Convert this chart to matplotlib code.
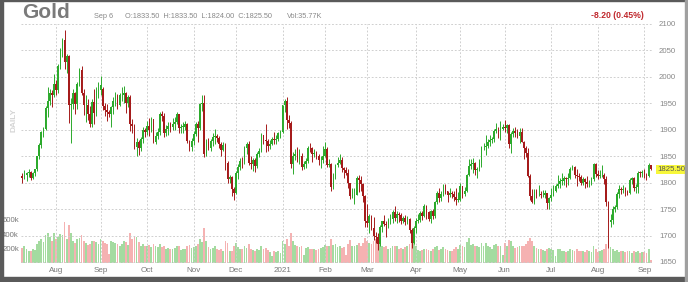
import numpy as np
import pandas as pd
import matplotlib
matplotlib.use("Agg")
import matplotlib.pyplot as plt
from matplotlib.patches import Rectangle

plt.rcParams['font.family'] = ['Liberation Sans', 'DejaVu Sans']

# ---------------- data ----------------
dates = pd.bdate_range('2020-07-10', '2021-09-06')
dates = dates.drop(pd.to_datetime(['2020-11-26', '2020-12-25', '2021-01-01', '2021-04-02']))

opens = [
    1812,1810,1814,1818,1820,1809,1818,1825,1850,1871,1896,1902,1941,1955,1970,1966,
    1986,1976,2021,2050,2070,2028,2039,1946,1948,1970,1949,1987,2013,1970,1946,1947,1929,1911,1953,1932,1974,
    1976,1978,1944,1938,1934,1930,1943,1954,1964,1947,1965,1966,1970,1950,1962,1910,1907,1868,1876,1866,1882,1899,
    1895,1907,1900,1920,1877,1888,1895,1930,1926,1894,1901,1908,1906,1911,1915,1929,1904,1905,1905,1911,1879,1868,
    1879,1892,1910,1903,1949,1951,1854,1876,1866,1878,1886,1889,1885,1873,1861,1872,1837,1807,1811,1788,
    1780,1818,1830,1841,1840,1866,1874,1838,1836,1843,1832,1855,1860,1890,1881,1879,1870,1874,1883,1880,1882,1893,
    1895,1946,1954,1918,1913,1835,1850,1855,1845,1851,1829,1836,1840,1866,1865,1855,1855,1850,1842,1842,
    1850,1863,1833,1835,1791,1813,1834,1838,1842,1827,1823,1818,1799,1775,1775,1777,1808,1805,1797,1775,
    1728,1723,1737,1715,1700,1698,1683,1716,1727,1722,1719,1729,1731,1745,1733,1741,1738,1727,1734,1725,1732,1711,1685,
    1715,1728,1729,1743,1737,1756,1744,1731,1746,1736,1764,1780,1770,1778,1793,1784,1777,1780,1778,1773,1768,
    1768,1793,1779,1784,1815,1831,1836,1837,1823,1825,1838,1867,1868,1870,1876,1881,1882,1898,1898,1895,1902,
    1905,1903,1909,1873,1892,1898,1894,1888,1896,1877,1866,1856,1812,1774,1764,1782,1778,1779,1776,1777,1780,1762,
    1770,1777,1784,1793,1797,1803,1803,1808,1806,1808,1826,1829,1815,1813,1811,1800,1806,1801,1797,1799,1806,1835,
    1817,1813,1814,1814,1806,1763,1726,1730,1751,1753,1778,1788,1787,1788,1782,1781,1805,1808,1790,1792,1819,1818,
    1818,1815,1812,1833.5,
]
highs = [
    1818,1824,1820,1826,1822,1821,1826,1851,1875,1898,1906,1944,1981,1977,1975,2005,
    1994,2024,2055,2074,2089,2043,2042,1960,1978,1972,1991,2016,2021,1977,1965,1958,1944,1959,1977,1980,1990,
    2001,1981,1950,1949,1938,1945,1962,1972,1967,1970,1980,1983,1972,1966,1966,1920,1911,1885,1880,1886,1905,1904,
    1917,1923,1925,1921,1896,1904,1933,1935,1932,1909,1914,1915,1922,1925,1934,1930,1911,1915,1916,1912,1881,1885,
    1897,1914,1916,1950,1965,1966,1882,1884,1882,1893,1902,1892,1888,1876,1877,1875,1840,1815,1813,1791,
    1822,1835,1846,1849,1869,1877,1878,1851,1846,1847,1858,1866,1893,1891,1910,1882,1880,1886,1895,1890,1896,1900,
    1947,1959,1962,1927,1917,1857,1863,1868,1864,1856,1840,1847,1870,1875,1867,1864,1860,1854,1850,1870,
    1876,1867,1845,1838,1818,1836,1848,1855,1848,1830,1830,1825,1800,1789,1790,1812,1815,1813,1799,1777,
    1760,1740,1739,1735,1706,1704,1720,1727,1738,1728,1733,1741,1748,1756,1746,1745,1742,1737,1739,1737,1734,1714,1718,
    1733,1740,1746,1747,1759,1758,1746,1748,1750,1765,1784,1790,1784,1797,1798,1785,1790,1784,1785,1790,1782,
    1799,1794,1792,1816,1845,1844,1846,1839,1830,1845,1869,1874,1890,1883,1891,1887,1902,1913,1905,1916,1910,
    1919,1910,1911,1895,1903,1905,1902,1903,1903,1879,1870,1865,1816,1788,1788,1788,1795,1785,1786,1787,1781,1772,
    1790,1795,1797,1815,1808,1818,1812,1810,1818,1829,1834,1831,1825,1819,1815,1810,1808,1813,1805,1810,1837,1837,
    1823,1824,1833,1818,1813,1765,1740,1756,1758,1782,1795,1792,1795,1791,1787,1808,1811,1810,1797,1822,1822,1823,
    1825,1818,1837,1833.5,
]
lows = [
    1800,1806,1803,1810,1805,1806,1812,1822,1845,1866,1886,1900,1925,1946,1943,1962,
    1965,1970,2015,2038,2015,2007,1912,1874,1940,1930,1940,1983,1965,1928,1915,1919,1905,1906,1911,1926,1960,
    1966,1937,1926,1916,1924,1906,1930,1945,1940,1944,1955,1950,1932,1943,1897,1893,1864,1851,1852,1860,1874,1886,
    1890,1889,1896,1874,1873,1882,1891,1916,1887,1888,1890,1896,1900,1900,1910,1894,1894,1894,1899,1875,1859,1860,
    1872,1889,1876,1900,1935,1848,1850,1861,1860,1870,1873,1876,1865,1850,1860,1824,1800,1800,1775,1767,
    1778,1806,1824,1828,1836,1855,1833,1826,1822,1821,1828,1849,1858,1873,1858,1860,1864,1872,1873,1873,1878,1884,
    1893,1934,1901,1903,1828,1817,1842,1839,1836,1823,1825,1828,1838,1857,1839,1848,1845,1834,1828,1838,
    1848,1830,1829,1785,1788,1806,1829,1836,1821,1808,1815,1789,1769,1770,1760,1776,1782,1785,1764,1717,
    1717,1705,1710,1691,1685,1673,1681,1706,1718,1697,1714,1722,1723,1728,1723,1726,1721,1724,1720,1722,1705,1677,1683,
    1705,1724,1725,1730,1735,1732,1727,1723,1731,1734,1760,1764,1766,1775,1778,1763,1773,1770,1765,1757,1763,
    1765,1770,1774,1782,1813,1825,1818,1814,1808,1822,1830,1862,1853,1866,1870,1874,1877,1893,1885,1880,1900,
    1896,1893,1866,1856,1886,1887,1884,1875,1876,1845,1848,1811,1767,1761,1760,1770,1775,1771,1772,1770,1751,1750,
    1766,1775,1783,1790,1790,1795,1795,1792,1796,1806,1823,1808,1794,1803,1795,1795,1790,1791,1792,1795,1804,1811,
    1806,1808,1811,1797,1755,1677,1717,1722,1744,1751,1771,1778,1781,1774,1777,1779,1798,1784,1780,1781,1810,1810,
    1808,1805,1810,1824,
]
closes = [
    1809,1814,1818,1820,1809,1818,1825,1850,1871,1896,1902,1941,1955,1970,1966,1986,
    1976,2021,2050,2070,2028,2039,1946,1948,1970,1949,1987,2013,1970,1946,1947,1929,1911,1953,1932,1974,1978,
    1984,1944,1938,1934,1930,1943,1954,1964,1947,1965,1966,1970,1950,1962,1910,1907,1868,1876,1866,1882,1899,1895,
    1907,1900,1920,1877,1888,1895,1930,1926,1894,1901,1908,1906,1911,1915,1929,1904,1905,1905,1911,1879,1868,1879,
    1892,1910,1903,1949,1951,1854,1876,1866,1878,1886,1889,1885,1873,1861,1872,1837,1807,1811,1788,1780,
    1818,1830,1841,1840,1866,1874,1838,1836,1843,1832,1855,1860,1890,1881,1879,1870,1874,1883,1880,1882,1893,1895,
    1946,1954,1918,1913,1835,1850,1855,1845,1851,1829,1836,1840,1866,1865,1855,1855,1850,1842,1842,1850,
    1863,1833,1835,1791,1813,1834,1838,1842,1827,1823,1818,1799,1775,1775,1777,1808,1805,1797,1775,1728,
    1723,1737,1715,1700,1698,1683,1716,1727,1722,1719,1729,1731,1745,1733,1741,1738,1727,1734,1725,1732,1711,1685,1715,
    1728,1729,1743,1737,1756,1744,1731,1746,1736,1764,1780,1770,1778,1793,1784,1777,1780,1778,1773,1768,1768,
    1793,1779,1784,1815,1831,1836,1837,1823,1825,1838,1867,1868,1870,1876,1881,1882,1898,1901,1895,1902,1905,
    1903,1909,1873,1892,1898,1894,1888,1896,1877,1866,1856,1812,1774,1764,1782,1778,1779,1776,1777,1780,1762,1770,
    1777,1784,1793,1797,1803,1803,1808,1806,1808,1826,1829,1815,1813,1811,1800,1806,1801,1797,1799,1806,1835,1817,
    1813,1814,1814,1806,1763,1726,1730,1751,1753,1778,1788,1787,1788,1782,1781,1805,1808,1790,1792,1819,1818,1818,
    1815,1812,1833.7,1825.5,
]
volumes_k = [
    210,230,190,170,160,200,180,260,300,330,290,380,420,360,300,410,
    330,360,400,390,560,330,520,420,300,280,330,350,380,300,270,250,260,300,310,290,260,
    330,310,280,260,120,300,290,280,260,240,260,300,290,250,420,330,370,360,290,240,260,230,
    230,250,220,260,230,220,260,220,230,200,210,190,200,210,230,240,180,190,200,240,250,210,
    220,240,260,330,290,480,300,220,200,210,230,200,180,200,170,310,280,170,160,230,
    280,220,200,190,230,210,260,190,180,160,190,180,240,190,210,180,150,90,170,150,160,140,
    300,260,330,230,420,300,250,230,220,240,110,210,220,200,200,190,180,200,210,220,
    250,240,230,330,250,260,220,230,210,220,110,260,320,240,230,250,280,230,280,350,
    300,280,260,310,330,350,270,230,220,230,200,210,240,230,240,190,210,200,220,230,260,330,290,
    230,180,170,180,200,190,180,170,190,220,240,180,190,220,200,180,170,160,190,220,200,
    250,240,220,290,340,250,260,240,230,220,270,240,280,230,220,200,250,260,240,230,110,
    270,240,320,300,230,210,220,230,240,230,260,300,340,310,240,210,200,190,180,170,200,210,
    200,180,90,200,190,170,160,150,170,200,180,170,190,160,170,160,150,180,160,150,230,190,
    150,160,180,190,260,300,220,200,170,180,150,160,170,150,160,170,140,160,150,170,140,150,
    150,140,190,36,
]
price_ticks = [1650, 1700, 1750, 1800, 1850, 1900, 1950, 2000, 2050, 2100]
vol_ticks_k = [200, 400, 600]
last_price = 1825.50

# ---------------- figure ----------------
W, H = 688, 282
fig = plt.figure(figsize=(W / 100, H / 100), dpi=100)
fig.patch.set_facecolor('white')

rect = [21 / W, 1 - 263 / H, (652 - 21) / W, (263 - 24) / H]
axv = fig.add_axes(rect)
ax = fig.add_axes(rect)
ax.set_zorder(axv.get_zorder() + 1)
ax.patch.set_alpha(0)

n = len(closes)
x = np.arange(n)
o = np.array(opens, float); h = np.array(highs, float)
l = np.array(lows, float); c = np.array(closes, float)
v = np.array(volumes_k, float)
up = c >= o

UP, DN = '#2caa2c', '#a51b1b'
VUP, VDN = '#a4dba0', '#f5b2b2'

# volume
axv.bar(x, v, width=0.85, color=np.where(up, VUP, VDN), linewidth=0)
axv.set_ylim(0, 3300)
axv.set_xlim(-0.6, n - 0.4)
axv.set_yticks(vol_ticks_k)
axv.set_yticklabels([f'{t}k' for t in vol_ticks_k])
axv.tick_params(axis='y', length=0, pad=1.5, labelsize=5.6, labelcolor='#777777')
axv.set_xticks([])
for s in axv.spines.values():
    s.set_visible(False)

# candles
cols = np.where(up, UP, DN)
ax.vlines(x, l, h, colors=cols, linewidth=0.7, zorder=3)
body = np.maximum(np.abs(c - o), 1.2)
ax.bar(x, body, bottom=np.minimum(o, c), width=0.78, color=cols, linewidth=0, zorder=4)

ax.set_xlim(-0.6, n - 0.4)
ax.set_ylim(1648, 2100)
ax.yaxis.tick_right()
ax.set_yticks(price_ticks)
ax.tick_params(axis='y', length=0, pad=5, labelsize=5.6, labelcolor='#888888')

# month ticks
months = pd.Series(dates).dt.to_period('M')
first_idx = [i for i in range(1, n) if months.iloc[i] != months.iloc[i - 1]]
labels = []
for i in first_idx:
    d = dates[i]
    labels.append(str(d.year) if d.month == 1 else d.strftime('%b'))
ax.set_xticks(first_idx)
ax.set_xticklabels(labels)
ax.tick_params(axis='x', length=0, pad=3, labelsize=5.8, labelcolor='#777777')

ax.grid(True, color='#cccccc', linestyle=(0, (2, 2)), linewidth=0.65, zorder=0)
ax.set_axisbelow(True)
for s in ax.spines.values():
    s.set_visible(False)

# last price tag
ax.text(1.008, last_price, f'{last_price:.2f}', transform=ax.get_yaxis_transform(),
        ha='left', va='center', fontsize=5.6, color='#555555',
        bbox=dict(boxstyle='square,pad=0.12', fc='#f7f73a', ec='none'), zorder=10)

# header texts
fig.text(22 / W, 1 - 18 / H, 'Gold', fontsize=15, fontweight='bold', color='#7a7a7a', va='baseline')
fig.text(94 / W, 1 - 17.5 / H, 'Sep 6', fontsize=5.3, color='#888888', va='baseline')
fig.text(125 / W, 1 - 17.5 / H, 'O:1833.50  H:1833.50  L:1824.00  C:1825.50', fontsize=5.3,
         color='#888888', va='baseline')
fig.text(287 / W, 1 - 17.5 / H, 'Vol:35.77K', fontsize=5.3, color='#888888', va='baseline')
fig.text(644 / W, 1 - 18.5 / H, '-8.20 (0.45%)', fontsize=6.2, color='#c0282d',
         fontweight='bold', ha='right', va='baseline')
fig.text(13.5 / W, 1 - 120 / H, 'DAILY', rotation=90, fontsize=6, fontweight='bold',
         color='#d4d4d4', ha='center', va='center')

# frame
fig.patches.append(Rectangle((0, 0), 3 / W, 1, transform=fig.transFigure, color='#5a5a5a', zorder=20))
fig.patches.append(Rectangle((0, 1 - 1.2 / H), 1, 1.2 / H, transform=fig.transFigure, color='#5a5a5a', zorder=20))
fig.patches.append(Rectangle((0, 0), 1, 5 / H, transform=fig.transFigure, color='#5a5a5a', zorder=20))
fig.patches.append(Rectangle((1 - 3 / W, 0), 3 / W, 1, transform=fig.transFigure, color='#a0a0a0', zorder=20))

fig.savefig('out.png', dpi=100)
